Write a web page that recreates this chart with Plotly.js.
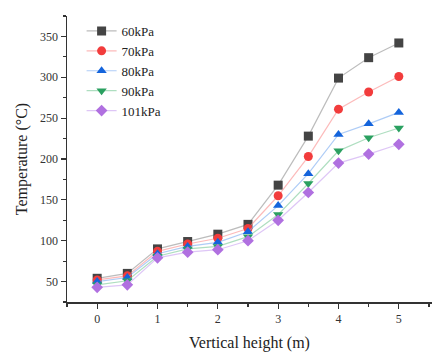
<!DOCTYPE html>
<html><head><meta charset="utf-8">
<script src="https://cdn.plot.ly/plotly-3.0.1.min.js"></script>
<style>html,body{margin:0;padding:0;background:#fff}</style>
</head><body><div id="chart" style="width:448px;height:355px"></div>
<script>
var heights = [0, 0.5, 1, 1.5, 2, 2.5, 3, 3.5, 4, 4.5, 5];
var seriesNames = ['60kPa', '70kPa', '80kPa', '90kPa', '101kPa'];
var t60  = [54, 60, 90, 99, 108, 120, 168, 228, 299, 324, 342];
var t70  = [52, 57, 87, 96, 103, 115, 155, 203, 261, 282, 301];
var t80  = [50, 55, 84, 93, 98, 111, 143, 182, 230, 243, 257];
var t90  = [46, 51, 81, 90, 93, 105, 132, 170, 210, 226, 238];
var t101 = [43, 46, 79, 86, 89, 100, 125, 159, 195, 206, 218];
var values = [t60, t70, t80, t90, t101];
var markerColors = ['#444444', '#f23c3c', '#1464dc', '#2aa060', '#b070e0'];
var lineColors = ['rgba(160,160,160,0.7)', 'rgba(250,140,140,0.6)', 'rgba(120,170,240,0.6)', 'rgba(120,200,150,0.6)', 'rgba(200,160,240,0.6)'];
var symbols = ['square', 'circle', 'triangle-up', 'triangle-down', 'diamond'];

var traces = seriesNames.map(function(n, i){
  return {x: heights, y: values[i], name: n, type: 'scatter', mode: 'lines+markers',
    line: {color: lineColors[i], width: 1.2},
    marker: {symbol: symbols[i], size: 9, color: markerColors[i], line: {width: 0}}};
});
var serif = 'Liberation Serif, Times New Roman, serif';
var layout = {
  width: 448, height: 355,
  margin: {l: 67, r: 16, t: 16, b: 53},
  paper_bgcolor: '#fff', plot_bgcolor: '#fff',
  font: {family: serif, size: 12, color: '#222'},
  showlegend: true,
  legend: {x: 0.04, y: 1.0, xanchor: 'left', yanchor: 'top', bgcolor: 'rgba(0,0,0,0)',
    font: {family: serif, size: 13, color: '#222'}, tracegroupgap: 0, itemwidth: 30},
  xaxis: {range: [-0.5, 5.55], tickmode: 'linear', tick0: 0, dtick: 1,
    showline: true, linecolor: '#333', linewidth: 1.5, mirror: false, showgrid: false, zeroline: false,
    ticks: 'outside', ticklen: 5, tickwidth: 1.2, tickcolor: '#333',
    minor: {dtick: 0.5, tick0: 0, ticks: 'outside', ticklen: 3, tickcolor: '#333', showgrid: false},
    tickfont: {family: serif, size: 12, color: '#333'},
    title: {text: 'Vertical height (m)', font: {family: serif, size: 16, color: '#222'}, standoff: 12}},
  yaxis: {range: [25, 375], tickmode: 'linear', tick0: 50, dtick: 50,
    showline: true, linecolor: '#333', linewidth: 1.5, showgrid: false, zeroline: false,
    ticks: 'outside', ticklen: 5, tickwidth: 1.2, tickcolor: '#333',
    minor: {dtick: 25, tick0: 0, ticks: 'outside', ticklen: 3, tickcolor: '#333', showgrid: false},
    tickfont: {family: serif, size: 12, color: '#333'},
    title: {text: 'Temperature (°C)', font: {family: serif, size: 16, color: '#222'}, standoff: 8}}
};
Plotly.newPlot('chart', traces, layout, {displayModeBar: false, staticPlot: true});
</script></body></html>
